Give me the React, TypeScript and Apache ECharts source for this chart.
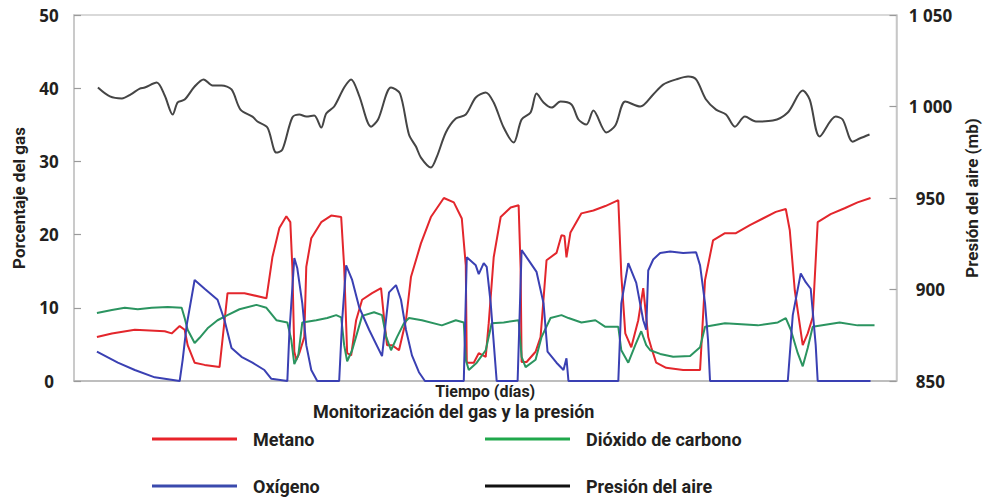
import React, { useEffect, useRef } from "react";
import * as echarts from "echarts";

// Time in arbitrary day units (axis 0 – 82.5)
const methane: [number, number][] = [
  [2.3, 6.0], [3.8, 6.5], [6.1, 7.0], [9.1, 6.8], [9.8, 6.5], [10.6, 7.5], [11.1, 7.0], [11.4, 4.9],
  [12.1, 2.5], [13.1, 2.2], [14.6, 1.9], [15.4, 12.0], [17.1, 12.0], [19.3, 11.3], [19.9, 16.9],
  [20.6, 20.9], [21.3, 22.5], [21.7, 21.7], [21.9, 15.6], [22.1, 4.0], [22.3, 2.9], [22.6, 3.8],
  [23.1, 6.0], [23.3, 15.6], [23.8, 19.5], [24.8, 21.7], [25.8, 22.6], [26.8, 22.4], [27.1, 15.6],
  [27.4, 3.8], [27.8, 3.5], [28.3, 8.3], [28.9, 11.1], [29.9, 12.0], [30.8, 12.7], [31.1, 8.6],
  [31.4, 4.9], [31.9, 4.9], [32.6, 4.2], [33.3, 8.3], [33.8, 14.2], [34.8, 18.8], [35.8, 22.4],
  [37.1, 25.0], [38.1, 24.4], [38.9, 22.2], [39.3, 15.8], [39.4, 2.5], [40.1, 2.5], [40.6, 3.8],
  [41.3, 3.3], [41.6, 7.9], [42.1, 16.9], [42.8, 22.4], [43.8, 23.7], [44.6, 24.0], [44.8, 15.4],
  [44.9, 2.6], [45.4, 2.6], [46.3, 4.0], [46.8, 6.0], [47.4, 16.5], [48.4, 17.5], [48.9, 19.9],
  [49.2, 19.8], [49.4, 16.9], [49.8, 20.3], [50.9, 22.9], [52.1, 23.3], [53.3, 23.9], [54.6, 24.7],
  [54.9, 14.5], [55.3, 6.5], [55.9, 4.6], [56.6, 8.3], [57.1, 12.7], [57.6, 6.0], [57.9, 4.6],
  [58.4, 2.5], [59.4, 1.8], [61.1, 1.5], [62.8, 1.5], [63.3, 13.8], [64.1, 19.2], [65.3, 20.2],
  [66.4, 20.2], [67.8, 21.3], [69.1, 22.2], [70.4, 23.1], [71.4, 23.5], [71.8, 20.6], [72.3, 12.4],
  [73.1, 4.9], [73.6, 6.5], [74.1, 8.7], [74.6, 21.7], [75.9, 22.8], [77.3, 23.6], [78.6, 24.4],
  [79.9, 25.0],
];

const carbonDioxide: [number, number][] = [
  [2.3, 9.3], [3.8, 9.7], [5.1, 10.0], [6.4, 9.8], [7.8, 10.0], [9.4, 10.1], [10.8, 10.0], [11.1, 8.6],
  [11.4, 7.0], [12.1, 5.2], [12.6, 5.9], [13.4, 7.2], [14.4, 8.3], [15.4, 9.0], [16.6, 9.8],
  [18.3, 10.4], [19.3, 10.0], [20.3, 8.3], [21.4, 8.0], [21.8, 5.6], [22.1, 2.3], [22.5, 3.5],
  [22.9, 8.0], [24.3, 8.3], [25.4, 8.6], [26.3, 9.0], [26.8, 8.7], [27.1, 4.9], [27.4, 2.7],
  [27.9, 4.2], [28.9, 8.9], [30.1, 9.4], [30.9, 9.0], [31.3, 6.1], [31.8, 4.2], [32.4, 6.0],
  [33.1, 7.9], [33.6, 8.6], [34.9, 8.3], [36.9, 7.6], [38.3, 8.3], [39.1, 8.0], [39.3, 2.9],
  [39.6, 1.5], [40.4, 2.5], [41.3, 4.2], [41.9, 7.9], [43.1, 8.0], [44.6, 8.3], [44.9, 3.3],
  [45.3, 1.9], [46.3, 2.9], [46.9, 6.0], [47.8, 8.6], [48.9, 9.0], [49.6, 8.6], [50.9, 8.0],
  [52.3, 8.3], [53.3, 7.4], [54.6, 7.4], [54.9, 4.2], [55.6, 2.5], [56.3, 4.9], [56.9, 6.8],
  [57.4, 4.9], [57.8, 4.2], [58.8, 3.7], [60.1, 3.3], [61.8, 3.4], [62.8, 4.6], [63.3, 7.4],
  [65.3, 7.9], [68.6, 7.6], [70.6, 8.0], [71.4, 8.6], [71.9, 7.0], [72.6, 3.8], [73.1, 2.0],
  [73.6, 4.5], [74.1, 7.4], [76.8, 8.0], [78.6, 7.6], [80.3, 7.6],
];

const oxygen: [number, number][] = [
  [2.3, 4.0], [4.4, 2.5], [6.1, 1.5], [8.1, 0.5], [10.6, 0], [10.9, 2.9], [11.3, 7.6], [12.1, 13.8],
  [13.1, 12.6], [14.4, 11.1], [15.1, 8.3], [15.8, 4.5], [16.8, 3.3], [17.9, 2.5], [19.1, 1.5],
  [19.8, 0.3], [21.4, 0], [21.6, 6.5], [22.1, 16.8], [22.4, 15.4], [22.9, 10.6], [23.3, 4.9],
  [23.8, 1.5], [24.4, 0], [26.6, 0], [26.9, 8.3], [27.3, 15.8], [27.9, 13.8], [28.6, 10.1],
  [29.6, 7.0], [30.9, 3.4], [31.6, 12.1], [32.3, 13.1], [32.8, 11.1], [33.3, 7.0], [33.9, 3.5],
  [34.6, 1.2], [35.2, 0], [39.1, 0], [39.4, 16.9], [40.3, 15.8], [40.6, 14.6], [41.1, 16.1],
  [41.4, 15.6], [41.8, 10.6], [42.2, 3.5], [42.4, 0], [44.5, 0], [44.9, 17.9], [45.8, 16.1],
  [46.4, 14.9], [47.1, 10.6], [47.5, 4.0], [48.4, 2.5], [49.1, 1.5], [49.4, 3.1], [49.6, 0],
  [54.6, 0], [54.9, 10.6], [55.6, 16.1], [56.4, 13.4], [57.1, 8.3], [57.4, 7.0], [57.6, 15.1],
  [58.1, 16.6], [58.8, 17.5], [59.8, 17.7], [61.1, 17.5], [62.4, 17.6], [62.8, 15.8], [63.3, 10.6],
  [63.6, 5.6], [63.8, 0], [71.6, 0], [72.1, 9.0], [72.9, 14.7], [73.4, 13.5], [73.9, 12.6],
  [74.4, 4.9], [74.6, 0], [79.9, 0],
];

const airPressure: [number, number][] = [
  [2.4, 1010.4], [3.6, 1005.5], [4.8, 1004.4], [5.7, 1006.6], [6.6, 1009.8], [7.1, 1010.4],
  [8.3, 1013.1], [9.1, 1006.0], [9.9, 995.6], [10.4, 1002.2], [11.1, 1003.8], [12.1, 1010.9],
  [13.0, 1014.8], [13.9, 1011.5], [14.8, 1011.5], [15.8, 1009.3], [16.7, 998.3], [17.9, 994.5],
  [18.4, 991.8], [19.4, 988.5], [20.3, 974.8], [20.9, 976.4], [21.9, 994.0], [22.6, 995.6],
  [23.3, 994.5], [24.1, 995.1], [24.8, 988.5], [25.3, 996.2], [26.1, 1000.0], [27.1, 1010.4],
  [27.8, 1014.8], [28.6, 1006.0], [29.8, 989.0], [30.5, 992.9], [31.8, 1010.4], [32.7, 1007.1],
  [33.6, 984.7], [34.3, 978.1], [34.8, 972.1], [35.8, 966.6], [36.4, 972.6], [37.3, 985.8],
  [38.3, 993.4], [39.3, 995.6], [40.3, 1004.9], [41.3, 1007.7], [42.1, 1002.2], [43.1, 988.5],
  [44.1, 980.3], [44.9, 992.9], [45.8, 996.7], [46.4, 1007.1], [47.1, 1002.2], [47.9, 999.4],
  [48.8, 1002.7], [49.9, 1001.1], [50.6, 992.9], [51.4, 990.1], [52.1, 997.8], [53.4, 985.8],
  [54.3, 989.6], [55.3, 1002.7], [56.8, 1000.0], [58.1, 1006.6], [59.1, 1012.0], [60.4, 1014.8],
  [61.6, 1016.4], [62.4, 1014.8], [63.4, 1003.8], [64.4, 998.3], [65.4, 995.6], [66.3, 989.0],
  [67.3, 994.5], [68.4, 991.8], [70.1, 992.3], [71.6, 996.7], [73.1, 1008.7], [73.8, 1003.8],
  [74.8, 983.6], [76.4, 994.5], [77.1, 992.9], [78.1, 980.8], [78.8, 982.5], [79.8, 984.7],
];

const gasTicks = { min: 0, max: 50, interval: 10 };
const pressureTicks = { min: 850, max: 1050, interval: 50 };
const timeRange = { min: 0, max: 82.5 };

const seriesNames = ["Metano", "Dióxido de carbono", "Oxígeno", "Presión del aire"];
const seriesColors = ["#e3262c", "#2b9460", "#3a40b3", "#454545"];
const legendColors = ["#e8232a", "#20a84c", "#3a4aad", "#111111"];

const TEXT = "#231f20";
const LABEL_FONT = 'Roboto, "Liberation Sans", sans-serif';
const NUM = '"Open Sans", "Liberation Sans", sans-serif';

export default function App() {
  const ref = useRef<HTMLDivElement>(null);

  useEffect(() => {
    if (!ref.current) return;
    const chart = echarts.init(ref.current, null, { renderer: "svg" });
    const datasets = [methane, carbonDioxide, oxygen, airPressure];

    const legendBase = {
      orient: "horizontal",
      padding: 0,
      itemWidth: 85,
      itemHeight: 3,
      icon: "rect",
      selectedMode: false,
      textStyle: {
        fontFamily: LABEL_FONT,
        fontSize: 18,
        fontWeight: "bold",
        color: TEXT,
        padding: [0, 0, 0, 11],
      },
    };
    const legendPos = [
      { left: 152, top: 430 },
      { left: 485, top: 430 },
      { left: 152, top: 477 },
      { left: 485, top: 477 },
    ];

    chart.setOption({
      animation: false,
      backgroundColor: "#ffffff",
      title: {
        text: "Monitorización del gas y la presión",
        left: 313,
        top: 403,
        padding: 0,
        textStyle: { fontFamily: LABEL_FONT, fontSize: 18, lineHeight: 16, fontWeight: "bold", color: TEXT },
      },
      legend: seriesNames.map((n, i) => ({
        ...legendBase,
        ...legendPos[i],
        data: [{ name: n, itemStyle: { color: legendColors[i] } }],
      })),
      grid: {
        left: 74,
        right: 89,
        top: 15,
        bottom: 119,
        show: true,
        borderColor: "#cdcdcd",
        borderWidth: 1.5,
      },
      xAxis: {
        type: "value",
        min: timeRange.min,
        max: timeRange.max,
        name: "Tiempo (días)",
        nameLocation: "middle",
        nameGap: 2,
        nameTextStyle: {
          fontFamily: LABEL_FONT,
          fontSize: 16,
          lineHeight: 16,
          fontWeight: "bold",
          color: TEXT,
          verticalAlign: "top",
        },
        axisLine: { show: true, lineStyle: { color: "#b5b5b5", width: 1.5 } },
        axisTick: { show: false },
        axisLabel: { show: false },
        splitLine: { show: false },
      },
      yAxis: [
        {
          type: "value",
          position: "left",
          ...gasTicks,
          name: "Porcentaje del gas",
          nameLocation: "middle",
          nameGap: 47,
          nameTextStyle: { fontFamily: LABEL_FONT, fontSize: 17, fontWeight: "bold", color: TEXT },
          axisLine: { show: true, lineStyle: { color: "#c4c4c4", width: 1.5 } },
          axisTick: { show: true, inside: true, length: 7, lineStyle: { color: "#9a9a9a", width: 1.2 } },
          axisLabel: { margin: 25, align: "center", fontFamily: NUM, fontSize: 17, fontWeight: "bold", color: TEXT },
          splitLine: { show: false },
        },
        {
          type: "value",
          position: "right",
          ...pressureTicks,
          name: "Presión del aire (mb)",
          nameLocation: "middle",
          nameGap: 60,
          nameTextStyle: { fontFamily: LABEL_FONT, fontSize: 17, fontWeight: "bold", color: TEXT },
          axisLine: { show: true, lineStyle: { color: "#c4c4c4", width: 1.5 } },
          axisTick: { show: true, inside: true, length: 7, lineStyle: { color: "#9a9a9a", width: 1.2 } },
          axisLabel: {
            margin: 34,
            align: "center",
            fontFamily: NUM,
            fontSize: 17,
            fontWeight: "bold",
            color: TEXT,
            formatter: (v: number) => (v >= 1000 ? `${Math.floor(v / 1000)} ${String(v % 1000).padStart(3, "0")}` : String(v)),
          },
          splitLine: { show: false },
        },
      ],
      series: seriesNames.map((n, i) => ({
        name: n,
        type: "line",
        yAxisIndex: i === 3 ? 1 : 0,
        data: datasets[i],
        symbol: "none",
        smooth: i === 3 ? 0.3 : false,
        lineStyle: { color: seriesColors[i], width: 2 },
        itemStyle: { color: seriesColors[i] },
        z: i === 3 ? 1 : 2,
      })),
    });

    return () => chart.dispose();
  }, []);

  return <div ref={ref} style={{ position: "absolute", left: 0, top: 0, width: 988, height: 500 }} />;
}
